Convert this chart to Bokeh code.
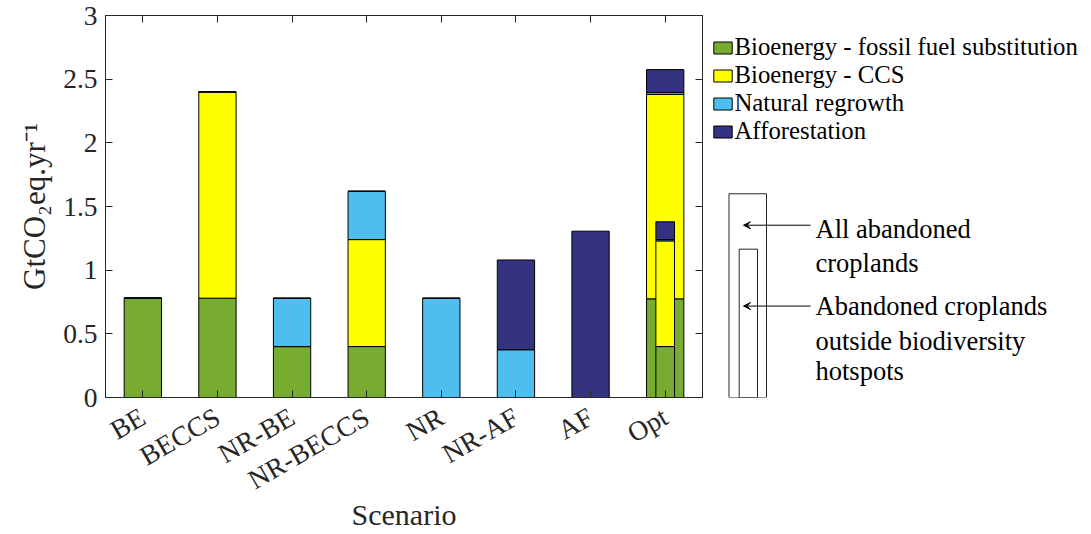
import math
from bokeh.plotting import figure
from bokeh.models import (ColumnDataSource, FactorRange, Range1d, LinearAxis, CategoricalAxis,
                          SingleIntervalTicker, NumeralTickFormatter, Legend, LegendItem,
                          Arrow, VeeHead)
from bokeh.layouts import row
from bokeh.embed import file_html
from bokeh.resources import INLINE
from bokeh.core.properties import value

# ---------------- data ----------------
scenarios = ["BE", "BECCS", "NR-BE", "NR-BECCS", "NR", "NR-AF", "AF", "Opt"]
series = ["Bioenergy - fossil fuel substitution", "Bioenergy - CCS",
          "Natural regrowth", "Afforestation"]
bio_ff = [0.78, 0.78, 0.40, 0.40, 0.0, 0.0, 0.0, 0.775]
bio_ccs = [0.0, 1.62, 0.0, 0.84, 0.0, 0.0, 0.0, 1.605]
nat_regrowth = [0.0, 0.0, 0.38, 0.38, 0.78, 0.375, 0.0, 0.015]
afforest = [0.0, 0.0, 0.0, 0.0, 0.0, 0.705, 1.306, 0.18]

# Opt scenario restricted to abandoned croplands outside biodiversity hotspots
opt_scen = ["Opt"]
opt_hs_ff = [0.40]
opt_hs_ccs = [0.83]
opt_hs_nr = [0.01]
opt_hs_af = [0.14]

# schematic inset (outer = all abandoned croplands, inner = outside hotspots)
inset_heights = [1.6, 1.165]
inset_lines = ["All abandoned", "croplands", "Abandoned croplands",
               "outside biodiversity", "hotspots"]

colors = ["#77AC30", "#FFFF00", "#4DBEEE", "#333380"]

# ---------------- style ----------------
FONT = "Liberation Serif"
TXT = "#262626"
H = 533
WA = 704
WB = 1090 - WA
TOP = 15
BOT = 136

keys = ["ff", "ccs", "nr", "af"]

p = figure(width=WA, height=H, x_range=FactorRange(*scenarios), y_range=Range1d(0, 3),
           output_backend="svg", toolbar_location=None,
           min_border_left=105, min_border_right=2, min_border_top=TOP, min_border_bottom=BOT,
           outline_line_color=TXT)
p.xgrid.visible = False
p.ygrid.visible = False

src = ColumnDataSource(dict(x=scenarios, ff=bio_ff, ccs=bio_ccs, nr=nat_regrowth, af=afforest))
p.vbar_stack(keys, x="x", width=0.5, source=src, fill_color=colors,
             line_color="black", line_width=1)
src2 = ColumnDataSource(dict(x=opt_scen, ff=opt_hs_ff, ccs=opt_hs_ccs, nr=opt_hs_nr, af=opt_hs_af))
p.vbar_stack(keys, x="x", width=0.25, source=src2, fill_color=colors,
             line_color="black", line_width=1)

def style_axis(ax):
    ax.axis_line_color = TXT
    ax.major_tick_line_color = TXT
    ax.major_tick_in = 7
    ax.major_tick_out = 0
    ax.minor_tick_in = 0
    ax.minor_tick_out = 0
    ax.major_label_text_font = FONT
    ax.major_label_text_color = TXT
    ax.major_label_text_font_size = "27.5px"
    ax.axis_label_text_font = FONT
    ax.axis_label_text_color = TXT
    ax.axis_label_text_font_size = "30px"
    ax.axis_label_text_font_style = "normal"

yax = p.yaxis[0]
yax.ticker = SingleIntervalTicker(interval=0.5)
yax.formatter = NumeralTickFormatter(format="0.[0]")
style_axis(yax)
yax.major_label_standoff = 8
yax.axis_label = "GtCO\u2082eq.yr\u207b\u00b9"
yax.axis_label_text_font_size = "31px"
yax.axis_label_standoff = 8

xax = p.xaxis[0]
style_axis(xax)
xax.major_label_orientation = math.pi / 6
xax.major_label_standoff = 17
xax.axis_label = "Scenario"
xax.axis_label_standoff = -14

# box: right and top axes with inward ticks and no labels
rax = LinearAxis(ticker=SingleIntervalTicker(interval=0.5), major_label_standoff=0)
style_axis(rax)
rax.major_label_text_font_size = "1px"
rax.major_label_text_color = None
p.add_layout(rax, "right")

tax = CategoricalAxis(major_label_standoff=0)
style_axis(tax)
tax.major_label_text_font_size = "1px"
tax.major_label_text_color = None
p.add_layout(tax, "above")

# ---------------- side panel: legend + inset ----------------
q = figure(width=WB, height=H, x_range=Range1d(0, WB), y_range=Range1d(0, 3),
           output_backend="svg", toolbar_location=None,
           x_axis_location=None, y_axis_location=None,
           min_border_left=0, min_border_right=0, min_border_top=TOP, min_border_bottom=BOT,
           outline_line_color=None)
for g in q.grid:
    g.visible = False

leg_rs = []
for c, vals in zip(colors, [bio_ff, bio_ccs, nat_regrowth, afforest]):
    r = q.vbar(x=[0], top=[max(vals)], width=1, fill_color=c, line_color="black",
               line_width=1, visible=False)
    leg_rs.append(r)
legend = Legend(items=[LegendItem(label=s, renderers=[r]) for s, r in zip(series, leg_rs)],
                location=(6.5, 252), padding=0, margin=0, spacing=0,
                glyph_width=23, glyph_height=15, label_height=28, label_standoff=1,
                label_text_font=FONT, label_text_font_size="24.75px", label_text_color="black",
                border_line_color=None, background_fill_alpha=0)
q.add_layout(legend)

q.quad(left=[24.5, 34.7], right=[62, 53], bottom=[0, 0], top=inset_heights,
       fill_color=None, line_color=TXT, line_width=1)
for yy in [1.353, 0.718]:
    q.add_layout(Arrow(end=VeeHead(size=7, line_color="black", fill_color="black", line_width=1),
                       x_start=106, y_start=yy, x_end=39, y_end=yy,
                       line_color="black", line_width=1))
q.text(x=[111] * 5, y=[1.32, 1.055, 0.718, 0.443, 0.205], text=inset_lines,
       text_font=value(FONT), text_font_size="26.5px", text_baseline="middle",
       text_align="left", text_color="black")

layout = row(p, q)
open("out.html", "w").write(file_html(layout, INLINE))
